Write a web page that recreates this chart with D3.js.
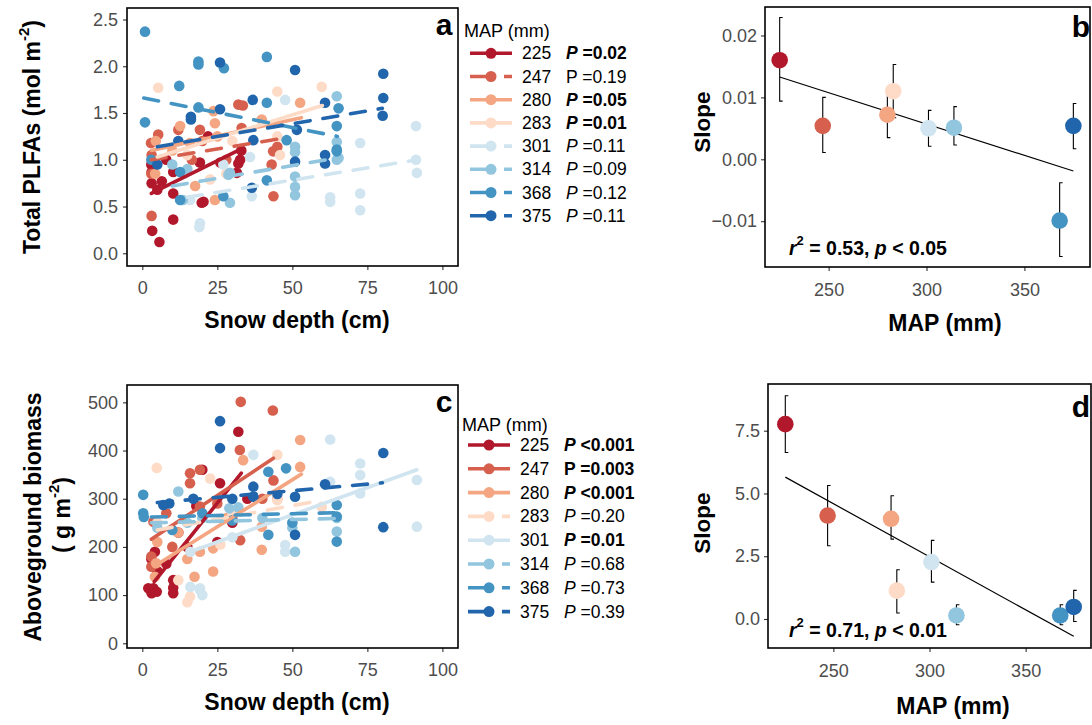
<!DOCTYPE html>
<html><head><meta charset="utf-8">
<script src="https://cdn.jsdelivr.net/npm/d3@7"></script>
<style>
body{margin:0;background:#fff;}
svg{font-family:"Liberation Sans",Arial,sans-serif;}
</style></head>
<body><svg id="c" width="1092" height="725"></svg>
<script>
// ---------- data ----------
const MAP = [225,247,280,283,301,314,368,375];
const colors = ['#b2182b','#d6604d','#f4a582','#fddbc7','#d1e5f0','#92c5de','#4393c3','#2166ac'];
const dashA = [false,true,false,false,true,true,true,true];
const dashC = [false,false,false,true,false,true,true,true];
const pTextA = ['=0.02','=0.19','=0.05','=0.01','=0.11','=0.09','=0.12','=0.11'];
const pBoldA = [true,false,true,true,false,false,false,false];
const pItalA = [true,false,true,true,true,true,true,true];
const pTextC = ['<0.001','=0.003','<0.001','=0.20','=0.01','=0.68','=0.73','=0.39'];
const pBoldC = [true,true,true,false,true,false,false,false];
const pItalC = [true,false,true,true,true,true,true,true];
const xTicksSnow = [0,25,50,75,100];
const yTicksA = [0,0.5,1,1.5,2,2.5];
const yTicksC = [0,100,200,300,400,500];
const xTicksMAP = [250,300,350];
const yTicksB = [-0.01,0,0.01,0.02];
const yTicksD = [0,2.5,5,7.5];

// panel a: snow depth (cm), total PLFAs
const plfa225 = [[3.3,0.24],[5.7,0.12],[10.3,0.36],[3.1,0.87],[3.1,0.75],[6.5,0.77],[10.3,0.87],[10.3,0.64],[19.8,0.54],[19.2,0.97],[31.5,0.86],[32,0.96],[32.6,1.0],[26,0.97],[21.9,1.25],[20.4,0.55],[3,0.95],[5,0.68],[8,1.0],[33,1.1]];
const plfa247 = [[3.1,0.40],[3.1,1.05],[5.3,1.27],[2.9,1.18],[19.2,1.32],[12,1.32],[32,1.59],[33.1,1.34],[33.5,1.58],[43.1,0.95],[43.7,0.61],[45,1.14],[43.6,1.09],[16.5,1.0],[20,1.2],[3,0.85],[28,1.0]];
const plfa280 = [[12.6,1.36],[4.5,1.2],[23.7,1.52],[24.2,1.39],[15.9,1.18],[4.3,0.85],[17.6,0.72],[24.2,0.57],[39.8,1.43],[52.6,1.61],[25,1.25],[10,1.1]];
const plfa283 = [[5.3,1.77],[22.6,0.79],[45,1.73],[59.8,1.78],[45,1.25],[45.9,1.05],[15,1.05],[30,1.2],[28,0.85]];
const plfa301 = [[15.9,0.57],[19.2,0.32],[19,0.28],[36.5,0.61],[47.6,1.64],[35.9,1.03],[62.6,0.55],[62.6,0.6],[72.6,0.64],[72.6,0.46],[72.6,1.18],[91.5,0.86],[91.2,1.36],[91.2,1.0],[14,0.85],[27,0.95]];
const plfa314 = [[13.5,0.57],[29.2,0.54],[29.2,0.86],[28.7,0.84],[50.9,0.82],[50.9,0.71],[50.9,0.62],[64.8,1.68],[64.8,1.19],[64.8,1.0],[65.4,1.02],[50.9,1.14],[50.9,1.08],[10,0.95],[15,0.9]];
const plfa368 = [[0.9,2.37],[12.3,1.79],[18.7,2.05],[18.7,2.02],[27.2,1.98],[0.9,1.40],[18.7,1.56],[12.6,0.87],[12.6,0.57],[27,0.61],[41.5,0.78],[41.5,2.10],[41.5,1.61],[65.4,1.55],[64.8,1.36],[64.8,1.11],[64.8,1.09],[48.1,1.21],[3,1.0]];
const plfa375 = [[16.2,1.46],[16.2,1.43],[25.9,2.04],[25.9,1.54],[36.5,0.70],[60.9,1.05],[60.9,0.96],[50.9,0.98],[50.9,1.96],[80.3,1.92],[80.3,1.66],[80.1,1.47],[36.8,1.64],[60.9,1.61],[51.5,1.32],[37,1.21],[5,0.95],[12,1.2]];
// fitted lines panel a: [snow start, value start, snow end, value end]
const fitA = [[3,0.64,32,1.10],[3,1.0,45,1.22],[3,1.1,53,1.45],[5,1.03,60,1.58],[15,0.6,91.5,1.0],[10,0.72,65,1.02],[0.5,1.66,65,1.25],[5,1.14,80,1.55]];

// panel c: snow depth (cm), aboveground biomass
const bio225 = [[4.2,190],[3.7,114],[4.8,107],[2,114],[3.1,104],[10.3,131],[10.3,104],[10.3,115],[32,439],[20,360],[25.9,332],[12,230],[15,200],[30,250],[18,285],[5,150],[3,175],[25,210],[8,165],[35,300]];
const bio247 = [[3,159],[3.7,252],[15.9,353],[19.2,360],[15.9,332],[32.8,501],[43.5,483],[32.5,401],[43.7,338],[32.6,214],[19.2,284],[3,180],[8,270],[25,290],[30,260],[40,300],[10,200]];
const bio280 = [[4.6,166],[4.2,138],[17.4,138],[19.2,190],[23.6,197],[23.6,149],[33.6,380],[52.6,422],[52.6,366],[39.8,242],[39.8,194],[5,210],[12,230],[28,260],[45,300],[15,175]];
const bio283 = [[4.8,364],[12,131],[15.9,97],[22.6,342],[26,205],[45,391],[45,297],[59.8,283],[15,85],[30,270],[50,250],[5,250]];
const bio301 = [[16,117],[19.2,114],[19.2,111],[16,190],[37,391],[47.6,204],[47.6,190],[62.6,423],[62.6,335],[72.6,373],[72.6,349],[72.6,311],[91.5,339],[91.5,242],[30,220],[20,100]];
const bio314 = [[12,315],[29,280],[32,282],[50.9,190],[64.8,232],[64.8,260],[15,250],[5,240],[40,260],[50,240],[20,260]];
const bio368 = [[0.3,308],[0.3,270],[0.5,262],[42,356],[47.9,363],[42,225],[64.8,287],[64.8,263],[64.8,211],[10,235],[20,270],[30,255],[50,250]];
const bio375 = [[25.9,461],[25.9,405],[7,287],[9,290],[37,325],[37,304],[50.9,304],[50.9,225],[60.9,330],[80.3,395],[80.3,241],[17,300],[30,300],[45,310]];
const fitC = [[4,128,33,353],[3,216,43.7,384],[4,160,53,351],[5,235,60,297],[16,190,91.5,360],[3,250,65,259],[3,262,65,271],[5,292,80,333]];

// panel b: slope of PLFA vs snow, with error bounds
const slopeB = [0.016,0.0054,0.0072,0.011,0.0050,0.0051,-0.0099,0.0054];
const lowB = [0.0094,0.0011,0.0035,0.0067,0.0021,0.0023,-0.0157,0.0017];
const highB = [0.0229,0.0100,0.0109,0.0153,0.0079,0.0085,-0.0038,0.0090];
const fitB = [225,0.0133,375,-0.0019];
// panel d: slope of biomass vs snow
const slopeD = [7.76,4.12,3.99,1.13,2.27,0.14,0.14,0.48];
const lowD = [6.63,2.92,3.18,0.24,1.47,-0.23,-0.23,-0.10];
const highD = [8.89,5.32,4.91,1.96,3.13,0.57,0.57,1.14];
const fitD = [225,5.65,375,-0.69];

const plfaGroups = [plfa225,plfa247,plfa280,plfa283,plfa301,plfa314,plfa368,plfa375];
const bioGroups = [bio225,bio247,bio280,bio283,bio301,bio314,bio368,bio375];

// ---------- drawing ----------
const svg = d3.select('#c');
const TICK = '#4d4d4d';
const tickFont = 18;

function axes(g, x, y, xt, yt, fmtY, box, padX, padY){
  const ax = g.append('g').attr('transform',`translate(0,${box.y1})`)
    .call(d3.axisBottom(x).tickValues(xt).tickSize(4).tickPadding(padX).tickFormat(d3.format('d')));
  const ay = g.append('g').attr('transform',`translate(${box.x0},0)`)
    .call(d3.axisLeft(y).tickValues(yt).tickSize(4).tickPadding(padY).tickFormat(fmtY));
  [ax,ay].forEach(a=>{
    a.select('.domain').remove();
    a.selectAll('line').attr('stroke','#333').attr('stroke-width',1.1);
    a.selectAll('text').attr('fill',TICK).attr('font-size',tickFont).attr('font-family','"Liberation Sans",Arial,sans-serif');
  });
  g.append('rect').attr('x',box.x0).attr('y',box.y0).attr('width',box.x1-box.x0).attr('height',box.y1-box.y0)
    .attr('fill','none').attr('stroke','#000').attr('stroke-width',1.6);
}

function scatterPanel(box, yDomain, groups, fits, dashes, yt, fmtY){
  const g = svg.append('g');
  const x = d3.scaleLinear().domain([-5.1,105.2]).range([box.x0,box.x1]);
  const y = d3.scaleLinear().domain(yDomain).range([box.y1,box.y0]);
  groups.forEach((pts,i)=>{
    g.append('g').selectAll('circle').data(pts).join('circle')
      .attr('cx',d=>x(d[0])).attr('cy',d=>y(d[1])).attr('r',5.3).attr('fill',colors[i]);
  });
  fits.forEach((f,i)=>{
    g.append('line').attr('x1',x(f[0])).attr('y1',y(f[1])).attr('x2',x(f[2])).attr('y2',y(f[3]))
      .attr('stroke',colors[i]).attr('stroke-width',3.6).attr('stroke-linecap','round')
      .attr('stroke-dasharray',dashes[i]?'15,13':null);
  });
  axes(g,x,y,xTicksSnow,yt,fmtY,box,11,5);
  return g;
}

function slopePanel(box, xDomain, yDomain, vals, lows, highs, fit, yt, fmtY){
  const g = svg.append('g');
  const x = d3.scaleLinear().domain(xDomain).range([box.x0,box.x1]);
  const y = d3.scaleLinear().domain(yDomain).range([box.y1,box.y0]);
  g.append('line').attr('x1',x(fit[0])).attr('y1',y(fit[1])).attr('x2',x(fit[2])).attr('y2',y(fit[3]))
    .attr('stroke','#000').attr('stroke-width',1.2);
  MAP.forEach((m,i)=>{
    const xx = x(m);
    g.append('path').attr('d',`M${xx+3},${y(highs[i])}H${xx}V${y(lows[i])}H${xx+3}`)
      .attr('fill','none').attr('stroke','#000').attr('stroke-width',1.1);
  });
  g.selectAll('circle.pt').data(MAP).join('circle').attr('class','pt')
    .attr('cx',d=>x(d)).attr('cy',(d,i)=>y(vals[i])).attr('r',8.3).attr('fill',(d,i)=>colors[i]);
  axes(g,x,y,xTicksMAP,yt,fmtY,box,12,4);
  return g;
}

function legend(x0, y0, step, titleY, dashes, pText, pBold, pItal){
  const g = svg.append('g');
  g.append('text').attr('x',x0-6).attr('y',titleY).attr('font-size',18).attr('fill','#000')
    .attr('dominant-baseline','central').text('MAP (mm)');
  MAP.forEach((m,i)=>{
    const yy = y0 + i*step;
    g.append('line').attr('x1',x0).attr('x2',x0+42).attr('y1',yy).attr('y2',yy)
      .attr('stroke',colors[i]).attr('stroke-width',3.6)
      .attr('stroke-dasharray',dashes[i]?'26,8':null);
    g.append('circle').attr('cx',x0+21).attr('cy',yy).attr('r',5.5).attr('fill',colors[i]);
    g.append('text').attr('x',x0+52).attr('y',yy).attr('dominant-baseline','central')
      .attr('font-size',17.5).attr('fill','#000').text(m);
    const t = g.append('text').attr('x',x0+96).attr('y',yy).attr('dominant-baseline','central')
      .attr('font-size',17.5).attr('fill','#000').attr('font-weight',pBold[i]?'bold':'normal');
    t.append('tspan').attr('font-style',pItal[i]?'italic':'normal').text('P');
    t.append('tspan').text(' '+pText[i]);
  });
}

// panel a
const boxA = {x0:127,x1:458,y0:8,y1:266};
scatterPanel(boxA,[-0.136,2.623],plfaGroups,fitA,dashA,yTicksA,d3.format('.1f'));
// panel c
const boxC = {x0:127,x1:458,y0:385,y1:648};
scatterPanel(boxC,[-9.8,536],bioGroups,fitC,dashC,yTicksC,d3.format('d'));
// panel b
const boxB = {x0:765,x1:1090,y0:7,y1:267};
slopePanel(boxB,[217.5,383.5],[-0.0174,0.0246],slopeB,lowB,highB,fitB,yTicksB,d=>d===0?'0.00':d3.format('.2f')(d));
// panel d
const boxD = {x0:768,x1:1091,y0:384,y1:648};
slopePanel(boxD,[216,384],[-1.155,9.36],slopeD,lowD,highD,fitD,yTicksD,d3.format('.1f'));

legend(470, 53.3, 23.2, 31, dashA, pTextA, pBoldA, pItalA);
legend(468, 445, 23.8, 425, dashC, pTextC, pBoldC, pItalC);

// titles
function txt(x,y,s,opts={}){
  const t = svg.append('text').attr('x',x).attr('y',y).attr('text-anchor',opts.anchor||'middle')
    .attr('dominant-baseline','central').attr('font-size',opts.size||23).attr('font-weight',opts.weight||'bold')
    .attr('fill','#000');
  if(s) t.text(s);
  if(opts.rotate) t.attr('transform',`rotate(-90,${x},${y})`);
  return t;
}
txt(297,320,'Snow depth (cm)');
txt(297,702,'Snow depth (cm)');
txt(945,323,'MAP (mm)');
txt(953,706,'MAP (mm)');
txt(702,122,'Slope',{rotate:true,size:22.5});
txt(702,523,'Slope',{rotate:true,size:22.5});
{
  const t = txt(32,137,'',{rotate:true});
  t.append('tspan').text('Total PLFAs (mol m');
  t.append('tspan').attr('font-size',15).attr('dy',-9).text('-2');
  t.append('tspan').attr('dy',9).text(')');
}
txt(33,517,'Aboveground biomass',{rotate:true});
{
  const t = txt(62,515,'',{rotate:true});
  t.append('tspan').text('( g m');
  t.append('tspan').attr('font-size',15).attr('dy',-9).text('-2');
  t.append('tspan').attr('dy',9).text(')');
}
// panel letters
txt(444,24,'a',{size:30});
txt(444,401,'c',{size:30});
txt(1081,26,'b',{size:30});
txt(1081,406,'d',{size:30});
// annotations
function ann(x,y,r2,p){
  const t = svg.append('text').attr('x',x).attr('y',y).attr('dominant-baseline','central')
    .attr('font-size',19.5).attr('font-weight','bold').attr('fill','#000');
  t.append('tspan').attr('font-style','italic').text('r');
  t.append('tspan').attr('font-size',13).attr('dy',-8).text('2');
  t.append('tspan').attr('dy',8).text(' = '+r2+', ');
  t.append('tspan').attr('font-style','italic').text('p');
  t.append('tspan').text(' < '+p);
}
ann(789,248,'0.53','0.05');
ann(789,630,'0.71','0.01');
</script></body></html>
